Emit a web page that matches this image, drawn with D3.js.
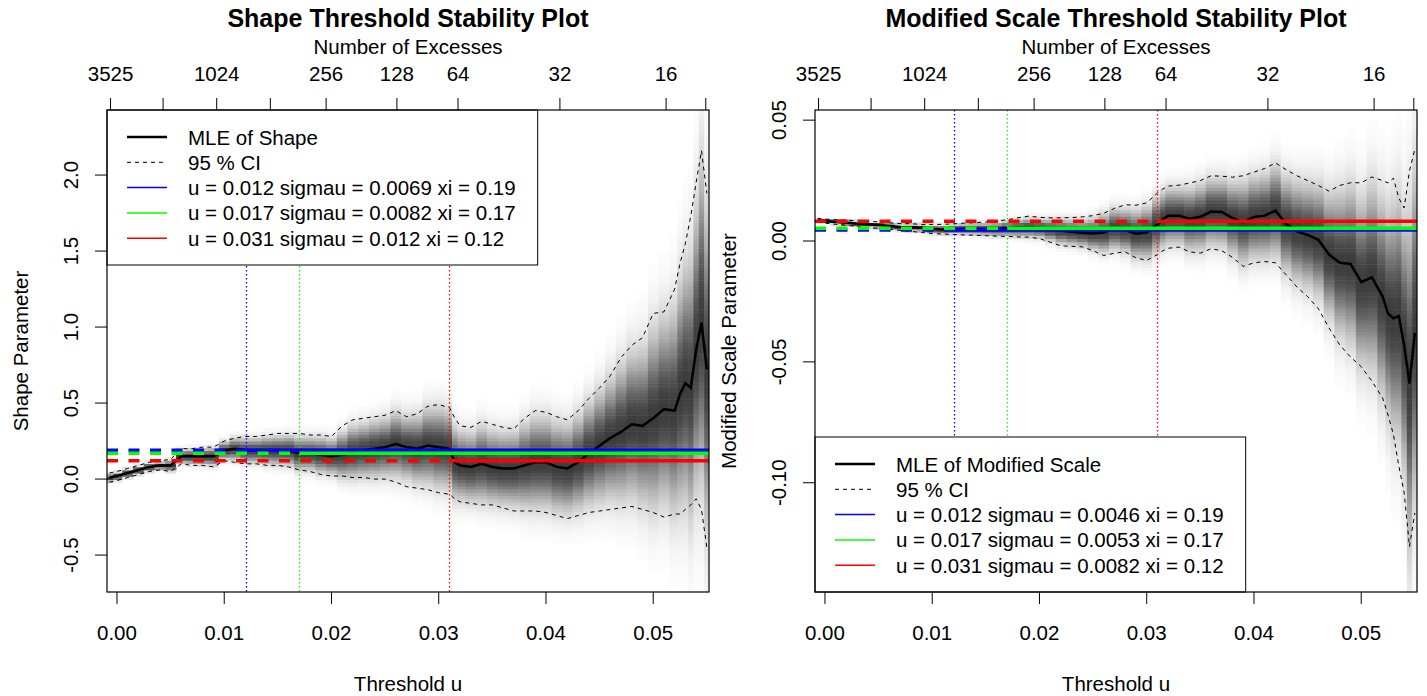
<!DOCTYPE html>
<html>
<head>
<meta charset="utf-8">
<script src="https://cdn.jsdelivr.net/npm/d3@7"></script>
<style>
  body { margin: 0; background: #fff; }
  text { font-family: Arial, "Liberation Sans", sans-serif; fill: #000; }
</style>
</head>
<body>
<div id="chart"></div>
<script>
// thresholds u
const thresholds = [-0.0007, 0.000, 0.001, 0.002, 0.003, 0.004, 0.005, 0.006, 0.007, 0.008, 0.009,
  0.010, 0.011, 0.012, 0.013, 0.014, 0.015, 0.016, 0.017, 0.018, 0.019, 0.020, 0.021, 0.022, 0.023,
  0.024, 0.025, 0.026, 0.027, 0.028, 0.029, 0.030, 0.031, 0.0315, 0.032, 0.033, 0.034, 0.035, 0.036,
  0.037, 0.038, 0.039, 0.040, 0.041, 0.042, 0.043, 0.044, 0.045, 0.046, 0.047, 0.048, 0.049, 0.050,
  0.051, 0.052, 0.0525, 0.053, 0.0535, 0.054, 0.0545, 0.055];

// shape parameter: MLE and 95% CI
const shapeMle = [0.01, 0.02, 0.04, 0.06, 0.08, 0.09, 0.09, 0.15, 0.15, 0.15, 0.15,
  0.19, 0.20, 0.19, 0.19, 0.19, 0.19, 0.19, 0.17, 0.17, 0.16, 0.15, 0.16, 0.18, 0.19,
  0.20, 0.21, 0.23, 0.21, 0.20, 0.22, 0.21, 0.20, 0.11, 0.09, 0.08, 0.10, 0.08, 0.07,
  0.07, 0.09, 0.11, 0.11, 0.08, 0.07, 0.11, 0.17, 0.22, 0.27, 0.31, 0.36, 0.35, 0.40,
  0.46, 0.45, 0.56, 0.63, 0.60, 0.85, 1.03, 0.72];
const shapeLower = [-0.02, -0.01, 0.01, 0.03, 0.05, 0.06, 0.05, 0.10, 0.09, 0.09, 0.08,
  0.12, 0.11, 0.10, 0.10, 0.09, 0.09, 0.08, 0.06, 0.05, 0.03, 0.02, 0.02, 0.01, 0.01,
  0.00, 0.00, -0.02, -0.05, -0.06, -0.07, -0.09, -0.10, -0.13, -0.15, -0.16, -0.17, -0.17, -0.19,
  -0.21, -0.21, -0.21, -0.22, -0.24, -0.26, -0.24, -0.22, -0.21, -0.20, -0.19, -0.18, -0.20, -0.22,
  -0.25, -0.23, -0.23, -0.20, -0.17, -0.13, -0.20, -0.45];
const shapeUpper = [0.04, 0.05, 0.07, 0.09, 0.11, 0.12, 0.13, 0.20, 0.20, 0.21, 0.21,
  0.25, 0.27, 0.28, 0.28, 0.29, 0.30, 0.30, 0.30, 0.29, 0.29, 0.28, 0.35, 0.39, 0.40,
  0.41, 0.42, 0.45, 0.41, 0.43, 0.48, 0.49, 0.47, 0.40, 0.35, 0.34, 0.38, 0.36, 0.34,
  0.33, 0.40, 0.45, 0.44, 0.41, 0.39, 0.45, 0.53, 0.60, 0.68, 0.80, 0.88, 0.93, 1.09,
  1.10, 1.25, 1.42, 1.55, 1.73, 1.95, 2.16, 1.88];

// modified scale parameter: MLE and 95% CI
const scaleMle = [0.0086, 0.0083, 0.0079, 0.0076, 0.0072, 0.0069, 0.0066, 0.0062, 0.0058, 0.0057, 0.0055,
  0.0050, 0.0048, 0.0050, 0.0051, 0.0051, 0.0050, 0.0050, 0.0053, 0.0055, 0.0057, 0.0054, 0.0048, 0.0042, 0.0038,
  0.0034, 0.0031, 0.0035, 0.0052, 0.0045, 0.0030, 0.0035, 0.0068, 0.0090, 0.0105, 0.0105, 0.0092, 0.0100, 0.0122,
  0.0120, 0.0095, 0.0078, 0.0100, 0.0105, 0.0126, 0.0070, 0.0040, 0.0025, 0.0005, -0.0056, -0.0090, -0.0095, -0.0170,
  -0.0150, -0.0230, -0.0300, -0.0320, -0.0310, -0.0430, -0.0590, -0.0380];
const scaleLower = [0.0078, 0.0074, 0.0069, 0.0065, 0.0060, 0.0056, 0.0052, 0.0048, 0.0044, 0.0040, 0.0035,
  0.0031, 0.0029, 0.0027, 0.0025, 0.0024, 0.0022, 0.0020, 0.0019, 0.0017, 0.0016, 0.0010, -0.0005, -0.0020, -0.0022,
  -0.0024, -0.0040, -0.0060, -0.0050, -0.0045, -0.0070, -0.0080, -0.0056, -0.0040, -0.0030, -0.0025, -0.0045, -0.0050, -0.0032,
  -0.0040, -0.0068, -0.0105, -0.0090, -0.0085, -0.0090, -0.0140, -0.0190, -0.0230, -0.0280, -0.0360, -0.0430, -0.0480, -0.0520,
  -0.0580, -0.0650, -0.0720, -0.0800, -0.0930, -0.1040, -0.1264, -0.1125];
const scaleUpper = [0.0094, 0.0091, 0.0088, 0.0086, 0.0084, 0.0082, 0.0079, 0.0076, 0.0072, 0.0072, 0.0068,
  0.0068, 0.0069, 0.0071, 0.0074, 0.0076, 0.0079, 0.0083, 0.0088, 0.0096, 0.0103, 0.0098, 0.0096, 0.0096, 0.0097,
  0.0100, 0.0105, 0.0115, 0.0135, 0.0150, 0.0148, 0.0158, 0.0199, 0.0215, 0.0227, 0.0231, 0.0240, 0.0250, 0.0270,
  0.0268, 0.0264, 0.0270, 0.0285, 0.0300, 0.0323, 0.0295, 0.0270, 0.0250, 0.0230, 0.0206, 0.0230, 0.0241, 0.0241,
  0.0265, 0.0250, 0.0240, 0.0260, 0.0178, 0.0137, 0.0290, 0.0380];

// candidate thresholds and their fits
const tryU = [0.012, 0.017, 0.031];
const trySigmau = [0.0069, 0.0082, 0.012];
const tryModScale = [0.0046, 0.0053, 0.0082];
const tryXi = [0.19, 0.17, 0.12];
const tryColors = ["#0000ff", "#00ff00", "#ff0000"];

// top axis: number of excesses
const excessCounts = [3525, 2048, 1024, 512, 256, 128, 64, 32, 16, 8];
const excessU = [-0.0006, 0.0043, 0.0093, 0.0143, 0.0195, 0.0261, 0.0318, 0.0413, 0.0512, 0.0549];
const excessLabelled = [3525, 1024, 256, 128, 64, 32, 16];

// tick values
const uTicks = [0, 0.01, 0.02, 0.03, 0.04, 0.05];
const shapeTicks = [-0.5, 0, 0.5, 1, 1.5, 2];
const scaleTicks = [-0.1, -0.05, 0, 0.05];

const width = 1427, height = 696;
const fs = 20.5;

const svg = d3.select("#chart").append("svg")
  .attr("width", width)
  .attr("height", height);

function drawPanel(p) {
  const x = d3.scaleLinear().domain([-0.00093, 0.0552]).range([p.x0, p.x1]);
  const y = d3.scaleLinear().domain(p.yDomain).range([p.y1, p.y0]);
  const g = svg.append("g");

  const clipId = "clip-" + p.id;
  g.append("clipPath").attr("id", clipId)
    .append("rect")
      .attr("x", p.x0).attr("y", p.y0)
      .attr("width", p.x1 - p.x0).attr("height", p.y1 - p.y0);
  const plot = g.append("g").attr("clip-path", `url(#${clipId})`);

  // density shading: one column per threshold, cells on a fixed grid
  const nCells = 150;
  const [ylo, yhi] = p.yDomain;
  const dy = (yhi - ylo) / nCells;
  const cells = [];
  thresholds.forEach((u, i) => {
    const left = i === 0 ? u - (thresholds[1] - u) / 2 : (thresholds[i - 1] + u) / 2;
    const right = i === thresholds.length - 1 ? u + (u - thresholds[i - 1]) / 2 : (u + thresholds[i + 1]) / 2;
    const se = (p.upper[i] - p.lower[i]) / 3.92;
    for (let j = 0; j < nCells; j++) {
      const yc = ylo + (j + 0.5) * dy;
      const z = (yc - p.mle[i]) / se;
      const d = Math.exp(-z * z / 2);
      if (d > 0.01) cells.push({ left, right, b: ylo + j * dy, t: ylo + (j + 1) * dy, d });
    }
  });
  plot.append("g")
    .selectAll("rect")
    .data(cells)
    .join("rect")
      .attr("x", d => x(d.left))
      .attr("width", d => x(d.right) - x(d.left) + 0.5)
      .attr("y", d => y(d.t))
      .attr("height", d => y(d.b) - y(d.t) + 0.5)
      .attr("fill", d => d3.gray(100 * (1 - 0.75 * d.d)));

  const pts = thresholds.map((u, i) => ({ u, m: p.mle[i], lo: p.lower[i], hi: p.upper[i] }));

  // CI dashed lines
  ["lo", "hi"].forEach(k => {
    plot.append("path")
      .datum(pts)
      .attr("fill", "none")
      .attr("stroke", "#000")
      .attr("stroke-width", 1)
      .attr("stroke-dasharray", "4,4")
      .attr("d", d3.line().x(d => x(d.u)).y(d => y(d[k])));
  });

  // MLE line
  plot.append("path")
    .datum(pts)
    .attr("fill", "none")
    .attr("stroke", "#000")
    .attr("stroke-width", 2.5)
    .attr("d", d3.line().x(d => x(d.u)).y(d => y(d.m)));

  // vertical dotted lines at candidate thresholds
  plot.append("g")
    .selectAll("line")
    .data(tryU)
    .join("line")
      .attr("x1", d => Math.round(x(d)) + 0.5).attr("x2", d => Math.round(x(d)) + 0.5)
      .attr("y1", p.y0).attr("y2", p.y1)
      .attr("stroke", (d, i) => tryColors[i])
      .attr("stroke-width", 1.3)
      .attr("stroke-dasharray", "1.5,2.5");

  // horizontal lines: dashed below threshold, solid above
  tryU.forEach((u, i) => {
    const v = p.hval[i];
    plot.append("line")
      .attr("x1", p.x0).attr("x2", x(u))
      .attr("y1", y(v)).attr("y2", y(v))
      .attr("stroke", tryColors[i]).attr("stroke-width", 3.5)
      .attr("stroke-dasharray", "11,10.5");
    plot.append("line")
      .attr("x1", x(u)).attr("x2", p.x1)
      .attr("y1", y(v)).attr("y2", y(v))
      .attr("stroke", tryColors[i]).attr("stroke-width", 3.5);
  });

  // bottom axis
  const bottom = g.append("g");
  bottom.selectAll("line")
    .data(uTicks)
    .join("line")
      .attr("x1", d => x(d)).attr("x2", d => x(d))
      .attr("y1", p.y1).attr("y2", p.y1 + 12)
      .attr("stroke", "#000");
  bottom.selectAll("text")
    .data(uTicks)
    .join("text")
      .attr("x", d => x(d)).attr("y", 632)
      .attr("text-anchor", "middle").attr("dominant-baseline", "central")
      .style("font-size", fs + "px")
      .text(d => d3.format(".2f")(d));
  g.append("text")
    .attr("x", (p.x0 + p.x1) / 2).attr("y", 683)
    .attr("text-anchor", "middle").attr("dominant-baseline", "central")
    .style("font-size", fs + "px")
    .text("Threshold u");

  // top axis: number of excesses
  const top = g.append("g");
  top.selectAll("line")
    .data(excessU)
    .join("line")
      .attr("x1", d => x(d)).attr("x2", d => x(d))
      .attr("y1", p.y0).attr("y2", p.y0 - 12)
      .attr("stroke", "#000");
  top.selectAll("text")
    .data(excessCounts.filter(c => excessLabelled.includes(c)))
    .join("text")
      .attr("x", c => x(excessU[excessCounts.indexOf(c)])).attr("y", 73)
      .attr("text-anchor", "middle").attr("dominant-baseline", "central")
      .style("font-size", fs + "px")
      .text(c => c);
  g.append("text")
    .attr("x", (p.x0 + p.x1) / 2).attr("y", 46)
    .attr("text-anchor", "middle").attr("dominant-baseline", "central")
    .style("font-size", fs + "px")
    .text("Number of Excesses");

  // title
  g.append("text")
    .attr("x", (p.x0 + p.x1) / 2).attr("y", 18)
    .attr("text-anchor", "middle").attr("dominant-baseline", "central")
    .style("font-size", "25px").style("font-weight", "bold")
    .text(p.title);

  // left axis
  const left = g.append("g");
  left.selectAll("line")
    .data(p.yTicks)
    .join("line")
      .attr("x1", p.x0).attr("x2", p.x0 - 12)
      .attr("y1", d => y(d)).attr("y2", d => y(d))
      .attr("stroke", "#000");
  left.selectAll("text")
    .data(p.yTicks)
    .join("text")
      .attr("transform", d => `translate(${p.x0 - 37},${y(d)}) rotate(-90)`)
      .attr("text-anchor", "middle").attr("dominant-baseline", "central")
      .style("font-size", fs + "px")
      .text(d => d3.format(p.yFormat)(d).replace("−", "-"));
  g.append("text")
    .attr("transform", `translate(${p.x0 - 87},${(p.y0 + p.y1) / 2}) rotate(-90)`)
    .attr("text-anchor", "middle").attr("dominant-baseline", "central")
    .style("font-size", fs + "px")
    .text(p.ylab);

  // legend
  const items = [
    { label: p.mleLabel, color: "#000", w: 2.5, dash: null },
    { label: "95 % CI", color: "#000", w: 1, dash: "4,4" }
  ].concat(tryU.map((u, i) => ({
    label: `u = ${u} sigmau = ${p.legendSigma[i]} xi = ${tryXi[i]}`,
    color: tryColors[i], w: 1.5, dash: null
  })));
  const rowH = 25.3, legH = 155;
  const ly0 = p.legendPos === "topleft" ? p.y0 : p.y1 - legH;
  const leg = g.append("g");
  const box = leg.append("rect")
    .attr("x", p.x0).attr("y", ly0)
    .attr("height", legH)
    .attr("fill", "#fff").attr("stroke", "#000");
  leg.selectAll("line")
    .data(items)
    .join("line")
      .attr("x1", p.x0 + 20).attr("x2", p.x0 + 60)
      .attr("y1", (d, i) => ly0 + 27 + i * rowH).attr("y2", (d, i) => ly0 + 27 + i * rowH)
      .attr("stroke", d => d.color).attr("stroke-width", d => d.w)
      .attr("stroke-dasharray", d => d.dash);
  const texts = leg.selectAll("text")
    .data(items)
    .join("text")
      .attr("x", p.x0 + 81).attr("y", (d, i) => ly0 + 27 + i * rowH)
      .attr("dominant-baseline", "central")
      .style("font-size", fs + "px")
      .text(d => d.label);
  let maxLen = 0;
  texts.each(function () { maxLen = Math.max(maxLen, this.getComputedTextLength()); });
  box.attr("width", 81 + maxLen + 22);

  // plot frame
  g.append("rect")
    .attr("x", p.x0).attr("y", p.y0)
    .attr("width", p.x1 - p.x0).attr("height", p.y1 - p.y0)
    .attr("fill", "none").attr("stroke", "#000").attr("stroke-width", 1.2);
}

drawPanel({
  id: "shape", x0: 107, x1: 709, y0: 110, y1: 592,
  yDomain: [-0.743, 2.428], yTicks: shapeTicks, yFormat: ".1f",
  mle: shapeMle, lower: shapeLower, upper: shapeUpper, hval: tryXi,
  title: "Shape Threshold Stability Plot", ylab: "Shape Parameter",
  mleLabel: "MLE of Shape", legendSigma: trySigmau, legendPos: "topleft"
});

drawPanel({
  id: "scale", x0: 815, x1: 1417, y0: 110, y1: 592,
  yDomain: [-0.1452, 0.0542], yTicks: scaleTicks, yFormat: ".2f",
  mle: scaleMle, lower: scaleLower, upper: scaleUpper, hval: tryModScale,
  title: "Modified Scale Threshold Stability Plot", ylab: "Modified Scale Parameter",
  mleLabel: "MLE of Modified Scale", legendSigma: tryModScale, legendPos: "bottomleft"
});
</script>
</body>
</html>
